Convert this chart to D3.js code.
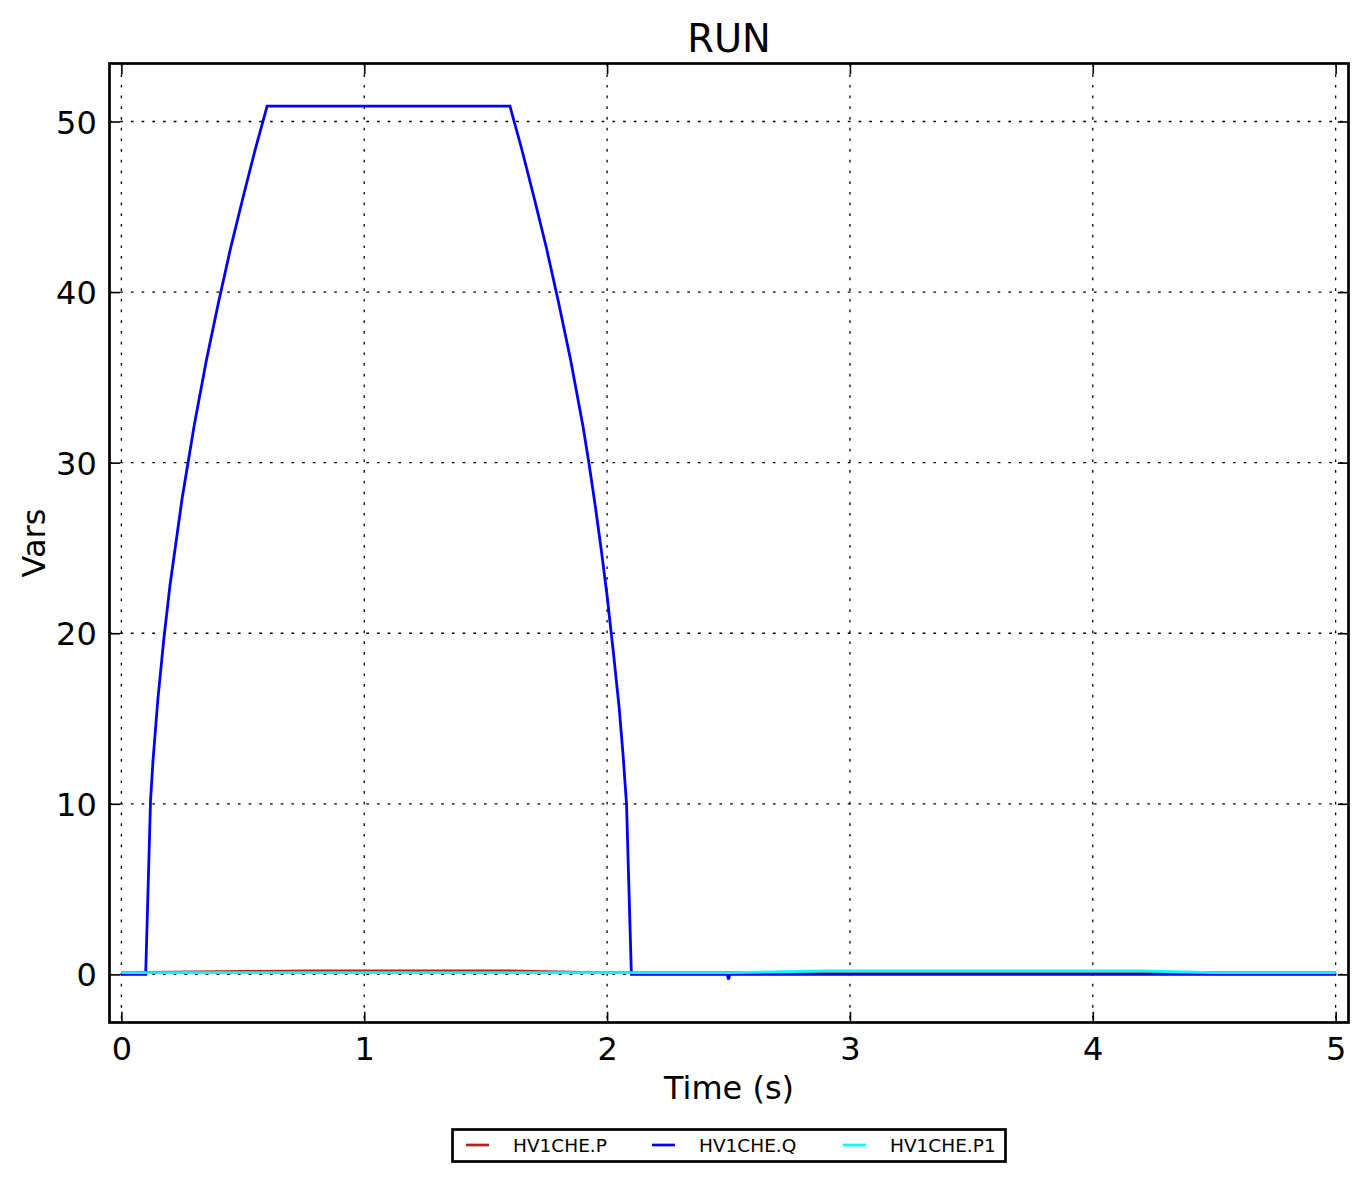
<!DOCTYPE html>
<html>
<head>
<meta charset="utf-8">
<script src="https://cdn.jsdelivr.net/npm/d3@7"></script>
<style>
  body { margin: 0; background: #fff; }
  svg { font-family: "DejaVu Sans", sans-serif; }
</style>
</head>
<body>
<svg id="chart" width="1368" height="1182"></svg>
<script>
// series
const qTime = [0, 0.1, 0.12, 0.13, 0.15, 0.175, 0.2, 0.25, 0.3, 0.35, 0.4, 0.45, 0.5, 0.55, 0.6,
    1.6, 1.65, 1.7, 1.75, 1.8, 1.85, 1.9, 1.925, 1.95, 1.975, 2.0, 2.025, 2.05, 2.065, 2.08, 2.1,
    2.495, 2.5, 2.505, 5];
const qVals = [0, 0, 10.2, 12.5, 16.1, 19.7, 22.8, 27.9, 32.2, 36.0, 39.4, 42.6, 45.5, 48.3, 50.9,
    50.9, 48.3, 45.5, 42.6, 39.4, 36.0, 32.2, 30.0, 27.6, 25.0, 22.2, 19.0, 15.6, 13.0, 10.0, 0,
    0, -0.3, 0, 0];
const pTime = [0, 0.5, 0.8, 1.6, 1.9, 2.1, 5];
const pVals = [0.1, 0.17, 0.2, 0.2, 0.12, 0.1, 0.1];
const p1Time = [0, 2.5, 2.9, 4.2, 4.5, 5];
const p1Vals = [0.1, 0.1, 0.2, 0.2, 0.1, 0.1];
const xTicks = [0, 1, 2, 3, 4, 5];
const yTicks = [0, 10, 20, 30, 40, 50];
const seriesNames = ['HV1CHE.P', 'HV1CHE.Q', 'HV1CHE.P1'];
const seriesColors = ['#b22222', '#0000ff', '#00ffff'];

const series = [
    { name: seriesNames[0], color: seriesColors[0], pts: pTime.map((t, i) => [t, pVals[i]]) },
    { name: seriesNames[1], color: seriesColors[1], pts: qTime.map((t, i) => [t, qVals[i]]) },
    { name: seriesNames[2], color: seriesColors[2], pts: p1Time.map((t, i) => [t, p1Vals[i]]) }
];

const box = { left: 109.5, right: 1348.5, top: 63.5, bottom: 1022.5 };
const svg = d3.select('#chart');

const x = d3.scaleLinear().domain([-0.049, 5.053]).range([box.left, box.right]);
const y = d3.scaleLinear().domain([-2.82, 53.4]).range([box.bottom, box.top]);

const gridDash = '2.7,8';
const tickLen = 10.7;

// grid
const grid = svg.append('g');
grid.selectAll('line.gx').data(xTicks).enter().append('line')
    .attr('x1', d => x(d)).attr('x2', d => x(d))
    .attr('y1', box.top).attr('y2', box.bottom)
    .attr('stroke', '#000').attr('stroke-width', 1.3).attr('stroke-dasharray', gridDash);
grid.selectAll('line.gy').data(yTicks).enter().append('line')
    .attr('y1', d => y(d)).attr('y2', d => y(d))
    .attr('x1', box.left).attr('x2', box.right)
    .attr('stroke', '#000').attr('stroke-width', 1.3).attr('stroke-dasharray', gridDash);

// lines
const line = d3.line().x(d => x(d[0])).y(d => y(d[1]));
svg.append('defs').append('clipPath').attr('id', 'clip')
    .append('rect').attr('x', box.left).attr('y', box.top)
    .attr('width', box.right - box.left).attr('height', box.bottom - box.top);
svg.append('g').attr('clip-path', 'url(#clip)')
    .selectAll('path').data(series).enter().append('path')
    .attr('d', d => line(d.pts))
    .attr('fill', 'none')
    .attr('stroke', d => d.color)
    .attr('stroke-width', 2.8)
    .attr('stroke-linejoin', 'miter');

// axes with inward ticks on every side
const bottomAxis = d3.axisBottom(x).tickValues(xTicks).tickFormat(d3.format('d'))
    .tickSizeInner(-tickLen).tickSizeOuter(0).tickPadding(tickLen + 3);
const topAxis = d3.axisTop(x).tickValues(xTicks).tickFormat('')
    .tickSizeInner(-tickLen).tickSizeOuter(0);
const leftAxis = d3.axisLeft(y).tickValues(yTicks).tickFormat(d3.format('d'))
    .tickSizeInner(-tickLen).tickSizeOuter(0).tickPadding(tickLen + 2);
const rightAxis = d3.axisRight(y).tickValues(yTicks).tickFormat('')
    .tickSizeInner(-tickLen).tickSizeOuter(0);

function styleAxis(g) {
    g.select('.domain').remove();
    g.selectAll('.tick line').attr('stroke', '#000').attr('stroke-width', 1.6);
    g.selectAll('.tick text').attr('fill', '#000')
        .style('font-family', '"DejaVu Sans", sans-serif').style('font-size', '32px');
}
svg.append('g').attr('transform', `translate(0,${box.bottom})`).call(bottomAxis).call(styleAxis)
    .selectAll('.tick text').attr('dy', '0.75em');
svg.append('g').attr('transform', `translate(0,${box.top})`).call(topAxis).call(styleAxis);
svg.append('g').attr('transform', `translate(${box.left},0)`).call(leftAxis).call(styleAxis)
    .selectAll('.tick text').attr('dy', '0.36em');
svg.append('g').attr('transform', `translate(${box.right},0)`).call(rightAxis).call(styleAxis);

// frame
svg.append('rect')
    .attr('x', box.left).attr('y', box.top)
    .attr('width', box.right - box.left).attr('height', box.bottom - box.top)
    .attr('fill', 'none').attr('stroke', '#000').attr('stroke-width', 2.7);

// texts
svg.append('text').attr('x', (box.left + box.right) / 2).attr('y', 52)
    .attr('text-anchor', 'middle').style('font-size', '38.4px').text('RUN');
svg.append('text').attr('x', (box.left + box.right) / 2).attr('y', 1099)
    .attr('text-anchor', 'middle').style('font-size', '32px').text('Time (s)');
svg.append('text').attr('transform', `translate(45,${(box.top + box.bottom) / 2}) rotate(-90)`)
    .attr('text-anchor', 'middle').style('font-size', '32px').text('Vars');

// legend
const legend = svg.append('g');
legend.append('rect').attr('x', 452.5).attr('y', 1129.5).attr('width', 553).attr('height', 32)
    .attr('fill', '#fff').attr('stroke', '#000').attr('stroke-width', 2.7);
const legX = [466, 652, 843];
const items = legend.selectAll('g.item').data(series).enter().append('g')
    .attr('transform', (d, i) => `translate(${legX[i]},0)`);
items.append('line').attr('x1', 0).attr('x2', 23).attr('y1', 1145).attr('y2', 1145)
    .attr('stroke', d => d.color).attr('stroke-width', 2.7);
items.append('text').attr('x', 47).attr('y', 1152).style('font-size', '18.5px')
    .text(d => d.name);
</script>
</body>
</html>
